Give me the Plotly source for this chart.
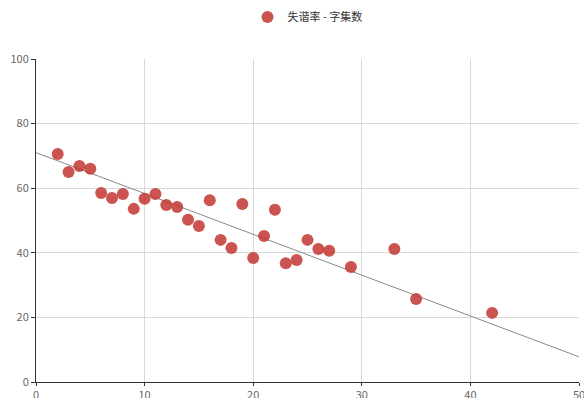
import plotly.graph_objects as go

# 字集数 (x) 与 失谐率 (y)
char_set = [2, 3, 4, 5, 6, 7, 8, 9, 10, 11, 12, 13, 14, 15, 16, 17, 18, 19, 20,
            21, 22, 23, 24, 25, 26, 27, 29, 33, 35, 42]
detune_rate = [70.6, 65.0, 66.9, 66.0, 58.5, 57.0, 58.2, 53.6, 56.7, 58.2, 54.8,
               54.2, 50.2, 48.3, 56.3, 44.0, 41.5, 55.1, 38.4, 45.2, 53.3, 36.8,
               37.8, 44.0, 41.2, 40.6, 35.6, 41.2, 25.7, 21.4]
x_ticks = [0, 10, 20, 30, 40, 50]
y_ticks = [0, 20, 40, 60, 80, 100]

# trend line: y = intercept + slope * x, drawn across the whole x range
trend_intercept = 71.0
trend_slope = -1.264
fit_x = [x_ticks[0], x_ticks[-1]]
fit_y = [trend_intercept + trend_slope * v for v in fit_x]

fig = go.Figure()
fig.add_trace(go.Scatter(
    x=fit_x, y=fit_y, mode="lines",
    line=dict(color="#8a8a8a", width=1),
    showlegend=False, hoverinfo="skip", cliponaxis=True,
))
fig.add_trace(go.Scatter(
    x=char_set, y=detune_rate, mode="markers",
    name="失谐率 - 字集数",
    marker=dict(color="rgba(194,53,49,0.85)", size=12, line=dict(width=0)),
))

axis_font = dict(family="Noto Sans CJK SC, sans-serif", size=11, color="#666")
fig.update_layout(
    width=584, height=398,
    margin=dict(l=36, r=5, t=59, b=16, autoexpand=False),
    paper_bgcolor="white", plot_bgcolor="white",
    font=dict(family="Noto Sans CJK SC, sans-serif", size=11, color="#333"),
    legend=dict(orientation="h", x=0.5, xanchor="center", y=1.13, yanchor="middle",
                font=dict(size=11, color="#333"), itemsizing="constant"),
    xaxis=dict(range=[0, 50], tickvals=x_ticks, showgrid=True, gridcolor="#d9d9d9",
               zeroline=False, showline=True, linecolor="#333", linewidth=1,
               ticks="outside", ticklen=3, tickcolor="#333", tickfont=axis_font,
               ticklabeloverflow="allow", ticklabelstandoff=0),
    yaxis=dict(range=[0, 100], tickvals=y_ticks, showgrid=True, gridcolor="#d9d9d9",
               zeroline=False, showline=True, linecolor="#333", linewidth=1,
               ticks="outside", ticklen=4, tickcolor="#333", tickfont=axis_font),
)

fig.write_html("out.html")
